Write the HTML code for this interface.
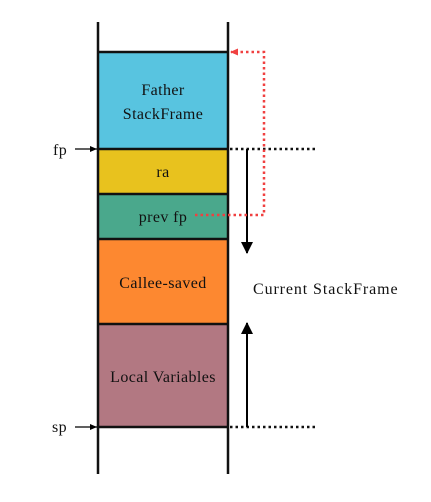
<!DOCTYPE html>
<html><head><meta charset="utf-8"><style>
html,body{margin:0;padding:0;background:#fff;width:431px;height:502px;overflow:hidden}
svg text{font-family:"Liberation Serif",serif;font-size:16px;fill:#111;letter-spacing:0.4px}
</style></head><body>
<svg width="431" height="502" viewBox="0 0 431 502" xmlns="http://www.w3.org/2000/svg">
<defs>
<marker id="ab" markerWidth="12" markerHeight="12" refX="11" refY="6" orient="auto" markerUnits="userSpaceOnUse"><path d="M0,0 L12,6 L0,12 z" fill="#000"/></marker>
<marker id="as" markerWidth="7" markerHeight="6" refX="7" refY="3" orient="auto" markerUnits="userSpaceOnUse"><path d="M0,0 L7,3 L0,6 z" fill="#000"/></marker>
<marker id="ar" markerWidth="8" markerHeight="7" refX="7" refY="3.5" orient="auto" markerUnits="userSpaceOnUse"><path d="M0,0 L8,3.5 L0,7 z" fill="#f04040"/></marker>
</defs>
<rect x="98" y="52" width="130" height="97" fill="#58c4e0"/>
<rect x="98" y="149" width="130" height="45" fill="#e8c21e"/>
<rect x="98" y="194" width="130" height="45" fill="#4aa88c"/>
<rect x="98" y="239" width="130" height="85" fill="#fd8830"/>
<rect x="98" y="324" width="130" height="103" fill="#b27882"/>
<g stroke="#111" stroke-width="2.5">
<line x1="98" y1="22" x2="98" y2="474"/>
<line x1="228" y1="22" x2="228" y2="474"/>
<line x1="98" y1="52" x2="228" y2="52"/>
<line x1="98" y1="149" x2="228" y2="149"/>
<line x1="98" y1="194" x2="228" y2="194"/>
<line x1="98" y1="239" x2="228" y2="239"/>
<line x1="98" y1="324" x2="228" y2="324"/>
<line x1="98" y1="427" x2="228" y2="427"/>
</g>
<g stroke="#111" stroke-width="2.5" stroke-dasharray="2.5,3">
<line x1="230" y1="149" x2="318" y2="149"/>
<line x1="230" y1="427" x2="318" y2="427"/>
</g>
<line x1="247" y1="149" x2="247" y2="253" stroke="#000" stroke-width="2" marker-end="url(#ab)"/>
<line x1="247" y1="427" x2="247" y2="323" stroke="#000" stroke-width="2" marker-end="url(#ab)"/>
<path d="M195,215 L264,215 L264,52 L231,52" fill="none" stroke="#f04040" stroke-width="2.5" stroke-dasharray="2.5,3" marker-end="url(#ar)"/>
<line x1="75" y1="149" x2="97" y2="149" stroke="#000" stroke-width="1.2" marker-end="url(#as)"/>
<line x1="75" y1="427" x2="97" y2="427" stroke="#000" stroke-width="1.2" marker-end="url(#as)"/>
<text x="53" y="155">fp</text>
<text x="52" y="432">sp</text>
<text x="163" y="95" text-anchor="middle">Father</text>
<text x="163" y="119" text-anchor="middle">StackFrame</text>
<text x="163" y="177" text-anchor="middle">ra</text>
<text x="163" y="222" text-anchor="middle">prev fp</text>
<text x="163" y="288" text-anchor="middle">Callee-saved</text>
<text x="163" y="382" text-anchor="middle">Local Variables</text>
<text x="253" y="294" textLength="145">Current StackFrame</text>
</svg>
</body></html>
